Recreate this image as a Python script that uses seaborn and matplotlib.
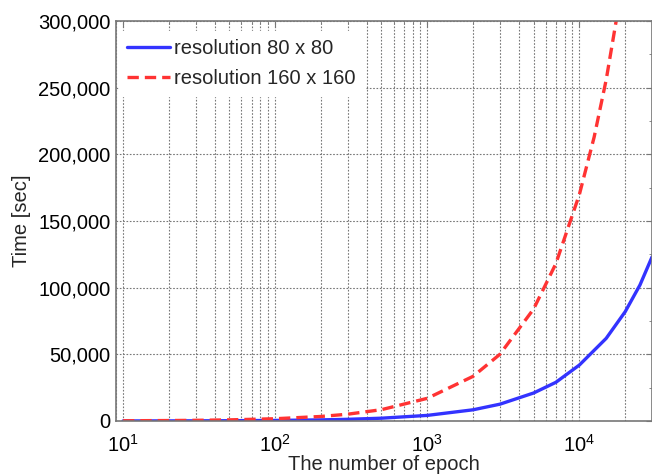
import numpy as np
import pandas as pd
import seaborn as sns
import matplotlib.pyplot as plt
from matplotlib.ticker import FuncFormatter, MultipleLocator, LogLocator

# values
epochs_80 = [10, 20, 30, 50, 100, 200, 300, 500, 1000, 2000, 3000, 5000, 7000, 10000, 15000, 20000, 25000, 30000]
time_80 = [42, 84, 126, 210, 420, 840, 1260, 2100, 4200, 8400, 12600, 21000, 29000, 42000, 62000, 82000, 102000, 123000]
epochs_160 = [10, 20, 30, 50, 100, 200, 300, 500, 1000, 2000, 3000, 5000, 7000, 10000, 12500, 15000, 20000]
time_160 = [170, 340, 510, 850, 1700, 3400, 5100, 8500, 17000, 33500, 50000, 84000, 118000, 170000, 213000, 256000, 340000]
labels = ["resolution 80 x 80", "resolution 160 x 160"]

df = pd.concat([
    pd.DataFrame({"epoch": epochs_80, "time": time_80, "series": labels[0]}),
    pd.DataFrame({"epoch": epochs_160, "time": time_160, "series": labels[1]}),
])

sns.set_style("white")
plt.rcParams['font.family'] = ['Liberation Sans', 'DejaVu Sans']
plt.rcParams['mathtext.fontset'] = 'custom'
plt.rcParams['mathtext.rm'] = 'Liberation Sans'
plt.rcParams['mathtext.it'] = 'Liberation Sans'

fig = plt.figure(figsize=(6.52, 4.75), dpi=100)
ax = fig.add_axes([0.178, 0.1137, 0.822, 0.842])

sns.lineplot(data=df, x="epoch", y="time", hue="series", style="series",
             palette={labels[0]: "#3333ff", labels[1]: "#ff3333"},
             dashes={labels[0]: "", labels[1]: (3.4, 1.8)},
             linewidth=2.4, ax=ax, sort=False)

ax.set_xscale("log")
ax.set_xlim(9, 3e4)
ax.set_ylim(0, 300000)
ax.yaxis.set_major_locator(MultipleLocator(50000))
ax.yaxis.set_minor_locator(MultipleLocator(25000))
ax.yaxis.set_major_formatter(FuncFormatter(lambda v, p: f"{int(v):,}"))
ax.xaxis.set_major_locator(LogLocator(base=10))
ax.xaxis.set_minor_locator(LogLocator(base=10, subs=np.arange(2, 10)))

ax.grid(True, which="major", linestyle=(0, (1.5, 1.5)), color="#777777", linewidth=0.8)
ax.grid(True, which="minor", axis="x", linestyle=(0, (1.5, 1.5)), color="#777777", linewidth=0.8)
ax.tick_params(which="both", direction="in", top=True, right=True, colors="#777777",
               labelcolor="black", labelsize=14.5)
ax.tick_params(which="major", length=4, pad=4)
ax.tick_params(axis="x", which="major", pad=9)
ax.tick_params(which="minor", length=2.5)
for s in ax.spines.values():
    s.set_color("#777777")
    s.set_linewidth(1.2)

ax.set_xlabel("The number of epoch", fontsize=14.5, labelpad=0)
ax.set_ylabel("Time [sec]", fontsize=14.5, labelpad=5)

leg = ax.legend(loc="upper left", bbox_to_anchor=(-0.006, 0.99), fontsize=14.5,
                frameon=True, framealpha=1, edgecolor="white", fancybox=False,
                handlelength=2.15, handletextpad=0.2, borderaxespad=0.3,
                labelspacing=0.55)

fig.savefig("out.png", dpi=100)
